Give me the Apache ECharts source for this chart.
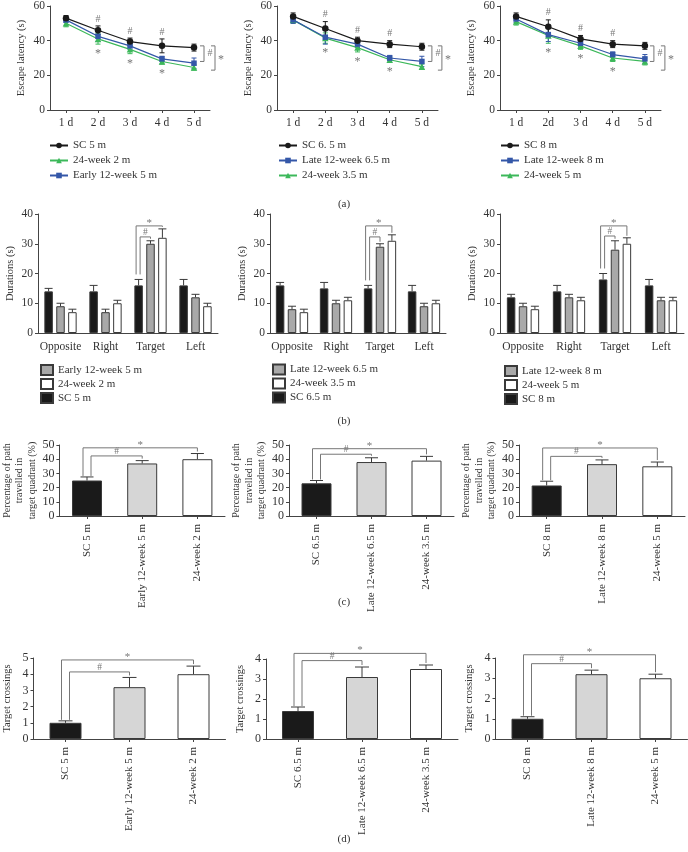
<!DOCTYPE html>
<html><head><meta charset="utf-8">
<script src="https://cdn.jsdelivr.net/npm/echarts@6/dist/echarts.min.js"></script>
<style>
html,body{margin:0;padding:0;background:#fff;}
#c1,#c2{position:absolute;left:0;top:0;width:688px;height:852px;}
</style></head><body>
<div id="c1"></div><div id="c2"></div>
<script>
// ================= DATA =================
const daysA = ['1 d','2 d','3 d','4 d','5 d'];
const daysA3 = ['1 d','2d','3 d','4 d','5 d'];

// (a) panel 1
const a1Legend = ['SC 5 m','24-week 2 m','Early 12-week 5 m'];
const a1SC = [53, 46, 39.5, 37, 36];
const a1SCErr = [1.5, 2.5, 2, 4, 2];
const a1W12 = [52, 42.5, 37, 29.5, 27];
const a1W12Err = [1.5, 3, 2, 1.5, 3];
const a1W24 = [50, 41, 35, 28, 24.5];
const a1W24Err = [2, 3, 2.5, 1.5, 1.5];
const a1Brackets = [37, 28, 23];
// (a) panel 2
const a2Legend = ['SC 6. 5 m','Late 12-week 6.5 m','24-week 3.5 m'];
const a2SC = [54, 47, 40, 38, 36.5];
const a2SCErr = [2, 4, 2, 2, 2];
const a2W12 = [52, 42, 38, 30, 28];
const a2W12Err = [2, 4, 2, 1.5, 3];
const a2W24 = [52, 41.5, 36, 29, 25];
const a2W24Err = [2, 3, 2.5, 1.5, 1.5];
const a2Brackets = [37, 28, 23];
// (a) panel 3
const a3Legend = ['SC 8 m','Late 12-week 8 m','24-week 5 m'];
const a3SC = [54, 48, 41, 38, 37];
const a3SCErr = [2, 4, 2, 2, 2];
const a3W12 = [52.5, 43.5, 38.5, 32, 29.5];
const a3W12Err = [2, 4, 2, 1.5, 2.5];
const a3W24 = [51, 43, 37, 30, 28];
const a3W24Err = [2, 4.5, 2, 2, 2];
const a3Brackets = [37, 28, 23];

// (b)
const quadrants = ['Opposite','Right','Target','Left'];
const b1Legend = ['Early 12-week 5 m','24-week 2 m','SC 5 m'];
const b1SC = [14, 14, 16, 16];   const b1SCErr = [1, 2, 2, 2];
const b1W12 = [9, 7, 30, 12];    const b1W12Err = [1, 1, 1, 1];
const b1W24 = [7, 10, 32, 9];    const b1W24Err = [1, 1, 3, 1];
const b1Brackets = [36, 32.3];
const b2Legend = ['Late 12-week 6.5 m','24-week 3.5 m','SC 6.5 m'];
const b2SC = [16, 15, 15, 14];   const b2SCErr = [1, 2, 1, 2];
const b2W12 = [8, 10, 29, 9];    const b2W12Err = [1, 1, 1, 1];
const b2W24 = [7, 11, 31, 10];   const b2W24Err = [1, 1, 2, 1];
const b2Brackets = [36, 32.3];
const b3Legend = ['Late 12-week 8 m','24-week 5 m','SC 8 m'];
const b3SC = [12, 14, 18, 16];   const b3SCErr = [1, 2, 2, 2];
const b3W12 = [9, 12, 28, 11];   const b3W12Err = [1, 1, 3, 1];
const b3W24 = [8, 11, 30, 11];   const b3W24Err = [1, 1, 2, 1];
const b3Brackets = [36, 32.6];

// (c)
const c1Groups = ['SC 5 m','Early 12-week 5 m','24-week 2 m'];
const c1Vals = [25, 37, 40];     const c1Err = [2.5, 2, 4];    const c1Brackets = [48, 42.3];
const c2Groups = ['SC 6.5 m','Late 12-week 6.5 m','24-week 3.5 m'];
const c2Vals = [23, 38, 39];     const c2Err = [2, 3, 3];      const c2Brackets = [47.4, 43.5];
const c3Groups = ['SC 8 m','Late 12-week 8 m','24-week 5 m'];
const c3Vals = [21.5, 36.5, 35]; const c3Err = [3, 3, 3];      const c3Brackets = [47.9, 42];

// (d)
const d1Groups = ['SC 5 m','Early 12-week 5 m','24-week 2 m'];
const d1Vals = [1.0, 3.2, 4.0];  const d1Err = [0.12, 0.6, 0.5]; const d1Brackets = [4.88, 4.14];
const d2Groups = ['SC 6.5 m','Late 12-week 6.5 m','24-week 3.5 m'];
const d2Vals = [1.4, 3.1, 3.5];  const d2Err = [0.2, 0.5, 0.2];  const d2Brackets = [4.28, 3.92];
const d3Groups = ['SC 8 m','Late 12-week 8 m','24-week 5 m'];
const d3Vals = [1.0, 3.2, 3.0];  const d3Err = [0.1, 0.2, 0.2];  const d3Brackets = [4.16, 3.72];

// ================= STYLE =================
const FONT = '"Liberation Serif","DejaVu Serif",serif';
const TXT = '#333', AX = '#444', ANN = '#777';
const BLACK = '#1a1a1a', GREEN = '#3cb85a', BLUE = '#3457a8';
const GRAYB = '#a9a9a9', GRAYC = '#d6d6d6', EDGE = '#3a3a3a';

function txt(t, x, y, size) {
  return {type:'text', x:x, y:y, style:{text:t, fill:ANN, fontSize:size, fontFamily:FONT, align:'center', verticalAlign:'middle'}};
}
function pline(points) {
  return {type:'polyline', shape:{points:points}, style:{stroke:ANN, fill:'none', lineWidth:1}};
}
function yAxisCfg(gi, max, interval, name, nameGap, nameSize, labelSize) {
  return {type:'value', gridIndex:gi, min:0, max:max, interval:interval, name:name,
    nameLocation:'middle', nameGap:nameGap,
    nameTextStyle:{fontFamily:FONT, fontSize:nameSize, color:TXT, lineHeight:12.5},
    axisLine:{show:true, lineStyle:{color:AX, width:1}},
    axisTick:{show:true, length:3, lineStyle:{color:AX}},
    axisLabel:{fontFamily:FONT, fontSize:labelSize || 11.5, color:TXT, margin:5},
    splitLine:{show:false}};
}
function xAxisCfg(gi, data, opt) {
  return {type:'category', gridIndex:gi, data:data, boundaryGap:true,
    axisLine:{show:true, lineStyle:{color:AX, width:1}},
    axisTick:{show:opt.ticks, alignWithLabel:true, length:3, lineStyle:{color:AX}},
    axisLabel:{fontFamily:FONT, fontSize:opt.size, color:TXT, margin:opt.margin, interval:0, rotate:opt.rotate||0}};
}
// error bar renderer
function errRender(vals, errs, color, cap, both, dx) {
  return function(params, api) {
    const i = params.dataIndex;
    const top = api.coord([i, vals[i] + errs[i]]);
    const bot = api.coord([i, both ? vals[i] - errs[i] : vals[i]]);
    const x = top[0] + (dx || 0), h = cap / 2;
    const st = {stroke:color, lineWidth:1};
    const ch = [
      {type:'line', shape:{x1:x, y1:top[1], x2:x, y2:bot[1]}, style:st},
      {type:'line', shape:{x1:x-h, y1:top[1], x2:x+h, y2:top[1]}, style:st}
    ];
    if (both) ch.push({type:'line', shape:{x1:x-h, y1:bot[1], x2:x+h, y2:bot[1]}, style:st});
    return {type:'group', children:ch};
  };
}
function errSeries(gi, vals, errs, color, cap, both, dx, z) {
  return {type:'custom', coordinateSystem:'cartesian2d', xAxisIndex:gi, yAxisIndex:gi,
    data: vals.map(function(v, i){ return [i, v]; }), encode:{x:0, y:1},
    renderItem: errRender(vals, errs, color, cap, both, dx), z:z, silent:true};
}
// bracket renderer (bars): pts(api) -> [[x,yTop] black, gray, white]
function barBracketSeries(gi, ptsFn, levels, dxS, dxH, gapL) {
  return {type:'custom', coordinateSystem:'cartesian2d', xAxisIndex:gi, yAxisIndex:gi,
    data:[[0, 0]], silent:true, z:10,
    renderItem: function(params, api) {
      const p = ptsFn(api);
      const k = p[0], g = p[1], w = p[2];
      const ys = api.coord([0, levels[0]])[1], yh = api.coord([0, levels[1]])[1];
      const xs1 = k[0] + dxS, xh1 = k[0] + dxH;
      const ch = [
        pline([[xs1, k[1] - gapL], [xs1, ys], [w[0], ys], [w[0], Math.max(ys, w[1] - 2)]]),
        pline([[xh1, k[1] - gapL], [xh1, yh], [g[0], yh], [g[0], Math.max(yh, g[1] - 2)]]),
        txt('*', (xs1 + w[0]) / 2, ys - 3, 11),
        txt('#', (xh1 + g[0]) / 2, yh - 4.5, 9.5)
      ];
      return {type:'group', children:ch};
    }};
}

// ================= MAIN CHART (rows a, c, d) =================
const grids = [], xAxes = [], yAxes = [], series = [], legends = [];

const aPanels = [
  {cats:daysA,  grid:{left:50, top:3, width:160, height:107}, legLeft:49, legend:a1Legend,
   sc:[a1SC,a1SCErr], w12:[a1W12,a1W12Err], w24:[a1W24,a1W24Err], names:{sc:a1Legend[0], w24:a1Legend[1], w12:a1Legend[2]},
   brk:a1Brackets, dxH:10, dxS:21},
  {cats:daysA,  grid:{left:277, top:3, width:161, height:107}, legLeft:278, legend:a2Legend,
   sc:[a2SC,a2SCErr], w12:[a2W12,a2W12Err], w24:[a2W24,a2W24Err], names:{sc:a2Legend[0], w12:a2Legend[1], w24:a2Legend[2]},
   brk:a2Brackets, dxH:10, dxS:20},
  {cats:daysA3, grid:{left:500, top:3, width:161, height:107}, legLeft:500, legend:a3Legend,
   sc:[a3SC,a3SCErr], w12:[a3W12,a3W12Err], w24:[a3W24,a3W24Err], names:{sc:a3Legend[0], w12:a3Legend[1], w24:a3Legend[2]},
   brk:a3Brackets, dxH:9, dxS:20}
];
const sigDays = [1, 2, 3];

aPanels.forEach(function(p, gi) {
  grids.push(p.grid);
  xAxes.push(xAxisCfg(gi, p.cats, {ticks:true, size:11.5, margin:7}));
  yAxes.push(yAxisCfg(gi, 60, 20, 'Escape latency (s)', 23, 10.5));
  const defs = [
    {key:'w24', color:GREEN, symbol:'triangle', size:6.5},
    {key:'w12', color:BLUE, symbol:'rect', size:5.5},
    {key:'sc', color:BLACK, symbol:'circle', size:6.5}
  ];
  defs.forEach(function(d, j) {
    const v = p[d.key][0], e = p[d.key][1];
    series.push(errSeries(gi, v, e, d.color, 5, true, 0, 2 + j));
    series.push({type:'line', name:p.names[d.key], xAxisIndex:gi, yAxisIndex:gi, data:v,
      symbol:d.symbol, symbolSize:d.size, showSymbol:true,
      itemStyle:{color:d.color}, lineStyle:{color:d.color, width:1.2}, z:5 + j});
  });
  // significance marks and right brackets
  series.push({type:'custom', coordinateSystem:'cartesian2d', xAxisIndex:gi, yAxisIndex:gi,
    data:[[0, 0]], silent:true, z:10,
    renderItem: function(params, api) {
      const ch = [];
      sigDays.forEach(function(i) {
        const t = api.coord([i, p.sc[0][i] + p.sc[1][i]]);
        ch.push(txt('#', t[0], t[1] - 7, 10));
        const b = api.coord([i, p.w24[0][i] - p.w24[1][i]]);
        ch.push(txt('*', b[0], b[1] + 10, 12));
      });
      const L = p.cats.length - 1;
      const x0 = api.coord([L, 0])[0];
      const yT = api.coord([L, p.brk[0]])[1], yH = api.coord([L, p.brk[1]])[1], yS = api.coord([L, p.brk[2]])[1];
      const xh = x0 + p.dxH, xs = x0 + p.dxS;
      ch.push(pline([[xh - 4, yT], [xh, yT], [xh, yH], [xh - 4, yH]]));
      ch.push(pline([[xs - 4, yT], [xs, yT], [xs, yS], [xs - 4, yS]]));
      ch.push(txt('#', xh + 6, (yT + yH) / 2, 10));
      ch.push(txt('*', xs + 6, (yT + yS) / 2 + 2, 12));
      return {type:'group', children:ch};
    }});
  legends.push({orient:'vertical', left:p.legLeft, top:140, padding:0, itemWidth:18, itemHeight:7, itemGap:4,
    selectedMode:false, data:p.legend,
    textStyle:{fontFamily:FONT, fontSize:11, color:TXT, lineHeight:11}});
});

// rows c and d
const cdPanels = [
  {grid:{left:58.5, top:445, width:166.5, height:71}, cats:c1Groups, vals:c1Vals, err:c1Err, brk:c1Brackets, max:50, int:10, name:'Percentage of path\ntravelled in\ntarget quadrant (%)', gap:20, ns:10, bw:30, cap:13},
  {grid:{left:289, top:445, width:165, height:71}, cats:c2Groups, vals:c2Vals, err:c2Err, brk:c2Brackets, max:50, int:10, name:'Percentage of path\ntravelled in\ntarget quadrant (%)', gap:20, ns:10, bw:30, cap:13},
  {grid:{left:519, top:445, width:166, height:71}, cats:c3Groups, vals:c3Vals, err:c3Err, brk:c3Brackets, max:50, int:10, name:'Percentage of path\ntravelled in\ntarget quadrant (%)', gap:20, ns:10, bw:30, cap:13},
  {grid:{left:33.5, top:658, width:192, height:81}, cats:d1Groups, vals:d1Vals, err:d1Err, brk:d1Brackets, max:5, int:1, name:'Target crossings', gap:20, ns:10.5, bw:32, cap:14},
  {grid:{left:266, top:659, width:192, height:80}, cats:d2Groups, vals:d2Vals, err:d2Err, brk:d2Brackets, max:4, int:1, name:'Target crossings', gap:20, ns:10.5, bw:32, cap:14},
  {grid:{left:495.5, top:658, width:192, height:81}, cats:d3Groups, vals:d3Vals, err:d3Err, brk:d3Brackets, max:4, int:1, name:'Target crossings', gap:20, ns:10.5, bw:32, cap:14}
];
const cdFill = [BLACK, GRAYC, '#ffffff'];
cdPanels.forEach(function(p, k) {
  const gi = 3 + k;
  grids.push(p.grid);
  xAxes.push(xAxisCfg(gi, p.cats, {ticks:true, size:11, margin:8, rotate:90}));
  yAxes.push(yAxisCfg(gi, p.max, p.int, p.name, p.gap, p.ns, 12));
  series.push({type:'bar', name:'bars' + gi, xAxisIndex:gi, yAxisIndex:gi, barWidth:p.bw,
    data: p.vals.map(function(v, i){ return {value:v, itemStyle:{color:cdFill[i], borderColor:EDGE, borderWidth:1}}; }),
    z:2});
  series.push(errSeries(gi, p.vals, p.err, EDGE, p.cap, false, 0, 4));
  series.push(barBracketSeries(gi, function(api) {
    return [0, 1, 2].map(function(i){ return api.coord([i, p.vals[i] + p.err[i]]); });
  }, p.brk, -4, 4, 1));
});

const titleStyle = {fontFamily:FONT, fontSize:11, fontWeight:'normal', color:TXT};
const mainOpt = {
  animation:false,
  title:[
    {text:'(a)', left:'center', top:199, padding:0, textStyle:titleStyle},
    {text:'(c)', left:'center', top:597, padding:0, textStyle:titleStyle},
    {text:'(d)', left:'center', top:834, padding:0, textStyle:titleStyle}
  ],
  grid:grids, xAxis:xAxes, yAxis:yAxes, series:series, legend:legends
};
echarts.init(document.getElementById('c1')).setOption(mainOpt);

// ================= ROW (b) CHART =================
const BW = 8.5, BG = 0.4, OFF = BW * (1 + BG);
const bPanels = [
  {grid:{left:38, top:214, width:180, height:119}, legend:b1Legend, legLeft:40, legTop:364,
   sc:[b1SC,b1SCErr], w12:[b1W12,b1W12Err], w24:[b1W24,b1W24Err], brk:b1Brackets},
  {grid:{left:270, top:214, width:176, height:119}, legend:b2Legend, legLeft:272, legTop:363.5,
   sc:[b2SC,b2SCErr], w12:[b2W12,b2W12Err], w24:[b2W24,b2W24Err], brk:b2Brackets},
  {grid:{left:500, top:214, width:184, height:119}, legend:b3Legend, legLeft:504, legTop:365,
   sc:[b3SC,b3SCErr], w12:[b3W12,b3W12Err], w24:[b3W24,b3W24Err], brk:b3Brackets}
];
const bGrids = [], bX = [], bY = [], bSeries = [], bLegends = [];
const targetIdx = 2;
bPanels.forEach(function(p, gi) {
  bGrids.push(p.grid);
  bX.push(xAxisCfg(gi, quadrants, {ticks:false, size:11.5, margin:8}));
  bY.push(yAxisCfg(gi, 40, 10, 'Durations (s)', 22, 10.5));
  const defs = [
    {key:'sc', name:p.legend[2], fill:BLACK, dx:-OFF},
    {key:'w12', name:p.legend[0], fill:GRAYB, dx:0},
    {key:'w24', name:p.legend[1], fill:'#ffffff', dx:OFF}
  ];
  defs.forEach(function(d) {
    bSeries.push({type:'bar', name:d.name, xAxisIndex:gi, yAxisIndex:gi, data:p[d.key][0],
      barWidth:BW, barGap:(BG * 100) + '%', barCategoryGap:'28%',
      itemStyle:{color:d.fill, borderColor:EDGE, borderWidth:1}, z:2});
  });
  defs.forEach(function(d) {
    bSeries.push(errSeries(gi, p[d.key][0], p[d.key][1], EDGE, 8, false, d.dx, 4));
  });
  bSeries.push(barBracketSeries(gi, function(api) {
    return defs.map(function(d) {
      const c = api.coord([targetIdx, p[d.key][0][targetIdx] + p[d.key][1][targetIdx]]);
      return [c[0] + d.dx, c[1]];
    });
  }, p.brk, -2.5, 1.5, 5));
  bLegends.push({orient:'vertical', left:p.legLeft, top:p.legTop, padding:0, itemWidth:12, itemHeight:10, itemGap:2,
    icon:'rect', selectedMode:false, data:p.legend,
    textStyle:{fontFamily:FONT, fontSize:11, color:TXT, lineHeight:11}});
});
const bOpt = {
  animation:false,
  title:[{text:'(b)', left:'center', top:416, padding:0, textStyle:titleStyle}],
  grid:bGrids, xAxis:bX, yAxis:bY, series:bSeries, legend:bLegends
};
echarts.init(document.getElementById('c2')).setOption(bOpt);
</script>
</body></html>
